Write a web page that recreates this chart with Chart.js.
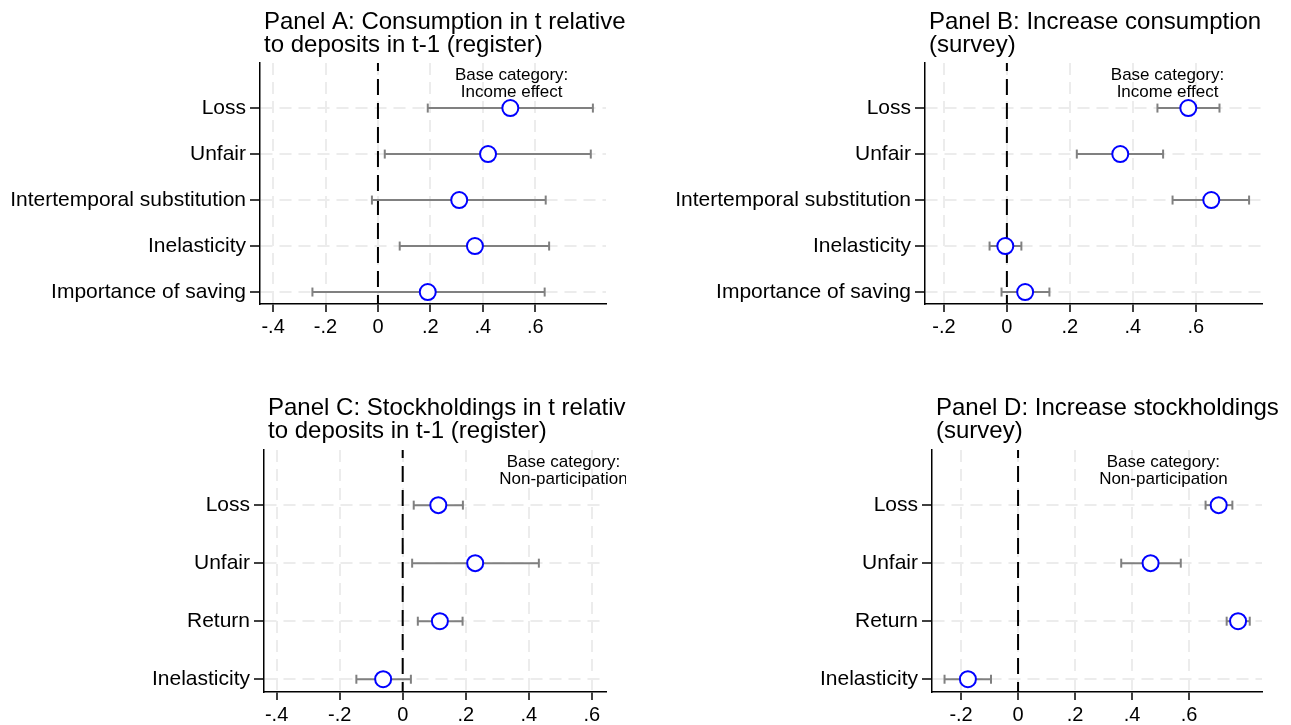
<!DOCTYPE html>
<html>
<head>
<meta charset="utf-8">
<script src="https://cdn.jsdelivr.net/npm/chart.js@4.4.1/dist/chart.umd.min.js"></script>
<style>
  body { margin: 0; background: #fff; width: 1291px; height: 725px; overflow: hidden; position: relative; }
  canvas { position: absolute; }
</style>
</head>
<body>
<canvas id="panelA" width="628" height="380" style="left:0;top:0"></canvas>
<canvas id="panelB" width="646" height="380" style="left:645px;top:0"></canvas>
<canvas id="panelC" width="626" height="339" style="left:0;top:386px"></canvas>
<canvas id="panelD" width="646" height="339" style="left:645px;top:386px"></canvas>
<script>
// categories
const catsAB = ['Loss', 'Unfair', 'Intertemporal substitution', 'Inelasticity', 'Importance of saving'];
const catsCD = ['Loss', 'Unfair', 'Return', 'Inelasticity'];

// Panel A: consumption relative to deposits (register)
const coefA = [0.505, 0.42, 0.31, 0.37, 0.19];
const loA = [0.19, 0.026, -0.023, 0.083, -0.25];
const hiA = [0.82, 0.812, 0.64, 0.653, 0.636];

// Panel B: increase consumption (survey)
const coefB = [0.576, 0.36, 0.649, -0.005, 0.058];
const loB = [0.478, 0.222, 0.526, -0.055, -0.017];
const hiB = [0.675, 0.496, 0.769, 0.046, 0.135];

// Panel C: stockholdings relative to deposits (register)
const coefC = [0.113, 0.23, 0.118, -0.062];
const loC = [0.035, 0.03, 0.048, -0.147];
const hiC = [0.191, 0.432, 0.19, 0.026];

// Panel D: increase stockholdings (survey)
const coefD = [0.704, 0.465, 0.772, -0.176];
const loD = [0.658, 0.362, 0.732, -0.258];
const hiD = [0.752, 0.571, 0.813, -0.095];

// tick labels
const ticksWide = [-0.4, -0.2, 0, 0.2, 0.4, 0.6];
const ticksNarrow = [-0.2, 0, 0.2, 0.4, 0.6];

const FONT = '"Liberation Sans", Arial, sans-serif';
const GRAY = '#808080';

const fmt = v => v === 0 ? '0' : (v < 0 ? '-' : '') + Math.abs(v).toFixed(1).slice(1);

const panelText = {
    id: 'panelText',
    afterDraw(chart, args, opts) {
        const {ctx, chartArea, scales} = chart;
        ctx.save();
        ctx.fillStyle = '#000';
        ctx.textBaseline = 'alphabetic';
        ctx.font = '24px ' + FONT;
        ctx.textAlign = 'left';
        opts.title.forEach((t, i) => ctx.fillText(t, chartArea.left + 4, 29 + i * 23));
        ctx.font = '17px ' + FONT;
        ctx.textAlign = 'center';
        const nx = scales.x.getPixelForValue(opts.noteX);
        opts.note.forEach((t, i) => ctx.fillText(t, nx, chartArea.top + 17 + i * 17));
        ctx.restore();
    }
};

function drawPanel(id, cats, coef, lo, hi, xTicks, xRange, yRange, box, title, note) {
    const datasets = [{
        data: coef.map((v, i) => ({x: v, y: i})),
        pointStyle: 'circle',
        pointRadius: 8,
        pointBorderWidth: 2,
        pointBorderColor: '#0000ff',
        pointBackgroundColor: '#ffffff'
    }];
    cats.forEach((c, i) => {
        datasets.push({
            data: [{x: lo[i], y: i}, {x: hi[i], y: i}],
            showLine: true,
            borderColor: GRAY,
            borderWidth: 2,
            pointStyle: 'line',
            pointRotation: 90,
            pointRadius: 4.5,
            pointBorderColor: GRAY,
            pointBorderWidth: 2
        });
    });
    // reference line at zero
    datasets.push({
        data: [{x: 0, y: yRange[0]}, {x: 0, y: yRange[1]}],
        showLine: true,
        borderColor: '#000',
        borderWidth: 2,
        borderDash: [16, 8],
        borderDashOffset: 8,
        pointRadius: 0
    });

    new Chart(document.getElementById(id), {
        type: 'scatter',
        data: {datasets: datasets},
        plugins: [panelText],
        options: {
            responsive: false,
            animation: false,
            layout: {padding: {left: 0, right: box.right, top: box.top, bottom: 0}},
            plugins: {
                legend: {display: false},
                tooltip: {enabled: false},
                panelText: {title: title, note: note, noteX: 0.51}
            },
            scales: {
                x: {
                    type: 'linear',
                    min: xRange[0],
                    max: xRange[1],
                    afterBuildTicks: s => { s.ticks = xTicks.map(v => ({value: v})); },
                    afterFit: s => { s.height = box.bottom; },
                    ticks: {
                        callback: v => fmt(v),
                        color: '#000',
                        font: {family: FONT, size: 20},
                        padding: 3,
                        maxRotation: 0
                    },
                    grid: {color: '#ececec', lineWidth: 2, tickColor: '#000', tickLength: 8, tickWidth: 1.5},
                    border: {display: true, color: '#000', width: 1.5, dash: [12, 7]}
                },
                y: {
                    type: 'linear',
                    reverse: true,
                    min: yRange[0],
                    max: yRange[1],
                    afterBuildTicks: s => { s.ticks = cats.map((c, i) => ({value: i})); },
                    afterFit: s => { s.width = box.left; },
                    ticks: {
                        callback: v => cats[Math.round(v)],
                        color: '#000',
                        font: {family: FONT, size: 21},
                        padding: 4
                    },
                    grid: {color: '#ececec', lineWidth: 2, tickColor: '#000', tickLength: 10, tickWidth: 1.5},
                    border: {display: true, color: '#000', width: 1.5, dash: [12, 7]}
                }
            }
        }
    });
}

drawPanel('panelA', catsAB, coefA, loA, hiA, ticksWide, [-0.45, 0.87], [-0.98, 4.26],
    {left: 260, right: 22, top: 63, bottom: 76},
    ['Panel A: Consumption in t relative', 'to deposits in t-1 (register)'],
    ['Base category:', 'Income effect']);

drawPanel('panelB', catsAB, coefB, loB, hiB, ticksNarrow, [-0.26, 0.81], [-0.98, 4.26],
    {left: 280, right: 29, top: 63, bottom: 76},
    ['Panel B: Increase consumption', '(survey)'],
    ['Base category:', 'Income effect']);

drawPanel('panelC', catsCD, coefC, loC, hiC, ticksWide, [-0.44, 0.645], [-0.95, 3.22],
    {left: 264, right: 20, top: 64, bottom: 33},
    ['Panel C: Stockholdings in t relative', 'to deposits in t-1 (register)'],
    ['Base category:', 'Non-participation']);

drawPanel('panelD', catsCD, coefD, loD, hiD, ticksNarrow, [-0.302, 0.856], [-0.95, 3.22],
    {left: 287, right: 29, top: 64, bottom: 33},
    ['Panel D: Increase stockholdings', '(survey)'],
    ['Base category:', 'Non-participation']);
</script>
</body>
</html>
